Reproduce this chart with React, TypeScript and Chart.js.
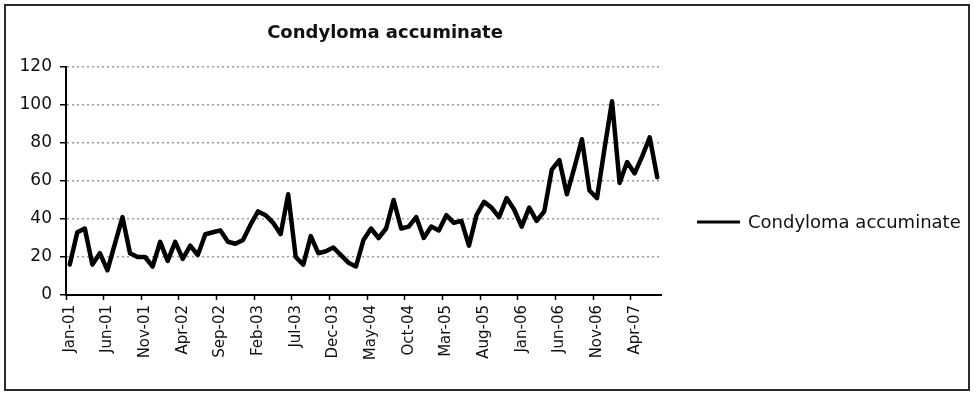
import React, { useEffect, useRef } from "react";
import { Chart, registerables } from "chart.js";

Chart.register(...registerables);

// Monthly reported cases, Jan 2001 – Jul 2007
const TITLE = "Condyloma accuminate";
const SERIES_NAME = "Condyloma accuminate";

const months = [
  "Jan-01", "Feb-01", "Mar-01", "Apr-01", "May-01", "Jun-01", "Jul-01", "Aug-01", "Sep-01", "Oct-01", "Nov-01", "Dec-01",
  "Jan-02", "Feb-02", "Mar-02", "Apr-02", "May-02", "Jun-02", "Jul-02", "Aug-02", "Sep-02", "Oct-02", "Nov-02", "Dec-02",
  "Jan-03", "Feb-03", "Mar-03", "Apr-03", "May-03", "Jun-03", "Jul-03", "Aug-03", "Sep-03", "Oct-03", "Nov-03", "Dec-03",
  "Jan-04", "Feb-04", "Mar-04", "Apr-04", "May-04", "Jun-04", "Jul-04", "Aug-04", "Sep-04", "Oct-04", "Nov-04", "Dec-04",
  "Jan-05", "Feb-05", "Mar-05", "Apr-05", "May-05", "Jun-05", "Jul-05", "Aug-05", "Sep-05", "Oct-05", "Nov-05", "Dec-05",
  "Jan-06", "Feb-06", "Mar-06", "Apr-06", "May-06", "Jun-06", "Jul-06", "Aug-06", "Sep-06", "Oct-06", "Nov-06", "Dec-06",
  "Jan-07", "Feb-07", "Mar-07", "Apr-07", "May-07", "Jun-07", "Jul-07",
];

const cases = [
  16, 33, 35, 16, 22, 13, 27, 41, 22, 20, 20, 15,
  28, 18, 28, 19, 26, 21, 32, 33, 34, 28, 27, 29,
  37, 44, 42, 38, 32, 53, 20, 16, 31, 22, 23, 25,
  21, 17, 15, 29, 35, 30, 35, 50, 35, 36, 41, 30,
  36, 34, 42, 38, 39, 26, 42, 49, 46, 41, 51, 45,
  36, 46, 39, 44, 66, 71, 53, 67, 82, 55, 51, 77,
  102, 59, 70, 64, 73, 83, 62,
];

const Y_MIN = 0;
const Y_MAX = 120;
const Y_STEP = 20;
const LABEL_EVERY = 5;

const FONT = "'DejaVu Sans', 'Liberation Sans', Arial, sans-serif";

// Outer border, centred bold title and a single-entry legend at the right
const decorations = {
  id: "decorations",
  beforeDraw(chart: any) {
    const { ctx, width, height } = chart;
    ctx.save();
    ctx.fillStyle = "#fff";
    ctx.fillRect(0, 0, width, height);
    ctx.strokeStyle = "#2b2b2b";
    ctx.lineWidth = 2;
    ctx.strokeRect(5, 5, 964, 385);
    ctx.restore();
  },
  afterDraw(chart: any) {
    const { ctx } = chart;
    ctx.save();
    ctx.fillStyle = "#111";
    ctx.textBaseline = "middle";
    ctx.textAlign = "center";
    ctx.font = `bold 18px ${FONT}`;
    ctx.fillText(TITLE, 385, 33);

    const ly = 222;
    ctx.strokeStyle = "#000";
    ctx.lineWidth = 3;
    ctx.beginPath();
    ctx.moveTo(697, ly);
    ctx.lineTo(740, ly);
    ctx.stroke();
    ctx.textAlign = "left";
    ctx.font = `18px ${FONT}`;
    ctx.fillText(SERIES_NAME, 748, ly + 1);
    ctx.restore();
  },
};

export default function App() {
  const canvasRef = useRef<HTMLCanvasElement | null>(null);

  useEffect(() => {
    const canvas = canvasRef.current;
    if (!canvas) return;
    const chart = new Chart(canvas, {
      type: "line",
      data: {
        labels: months,
        datasets: [
          {
            label: SERIES_NAME,
            data: cases,
            borderColor: "#000",
            backgroundColor: "#000",
            borderWidth: 4.5,
            pointRadius: 0,
            tension: 0,
            borderJoinStyle: "round",
            borderCapStyle: "round",
          },
        ],
      },
      options: {
        responsive: false,
        devicePixelRatio: 1,
        animation: false,
        layout: { padding: { left: 20, right: 315, top: 67, bottom: 31 } },
        plugins: {
          legend: { display: false },
          title: { display: false },
          tooltip: { enabled: false },
        },
        scales: {
          x: {
            type: "category",
            offset: true,
            afterFit: (scale: any) => {
              scale.height = 70;
            },
            grid: {
              offset: true,
              drawOnChartArea: false,
              tickLength: 5,
              tickWidth: 1.5,
              tickColor: (ctx: any) => (ctx.index % LABEL_EVERY === 0 ? "#000" : "rgba(0,0,0,0)"),
            },
            border: { display: true, color: "#000", width: 2 },
            ticks: {
              autoSkip: false,
              maxRotation: 90,
              minRotation: 90,
              padding: 5,
              color: "#111",
              font: { family: FONT, size: 15 },
              callback: (_v: any, i: number) => (i % LABEL_EVERY === 0 ? months[i] : ""),
            },
          },
          y: {
            min: Y_MIN,
            max: Y_MAX,
            afterFit: (scale: any) => {
              scale.width = 46;
            },
            grid: {
              color: (ctx: any) => (ctx.tick && ctx.tick.value === 0 ? "rgba(0,0,0,0)" : "#9a9a9a"),
              lineWidth: 1.5,
              tickLength: 6,
              tickColor: "#000",
              tickWidth: 1.5,
            },
            border: { display: true, color: "#000", width: 2, dash: [2, 3] },
            ticks: {
              stepSize: Y_STEP,
              padding: 8,
              color: "#111",
              font: { family: FONT, size: 17 },
            },
          },
        },
      },
      plugins: [decorations],
    });
    return () => chart.destroy();
  }, []);

  return (
    <div style={{ position: "absolute", left: 0, top: 0, width: 976, height: 396, background: "#fff" }}>
      <canvas ref={canvasRef} width={976} height={396} style={{ display: "block" }} />
    </div>
  );
}
